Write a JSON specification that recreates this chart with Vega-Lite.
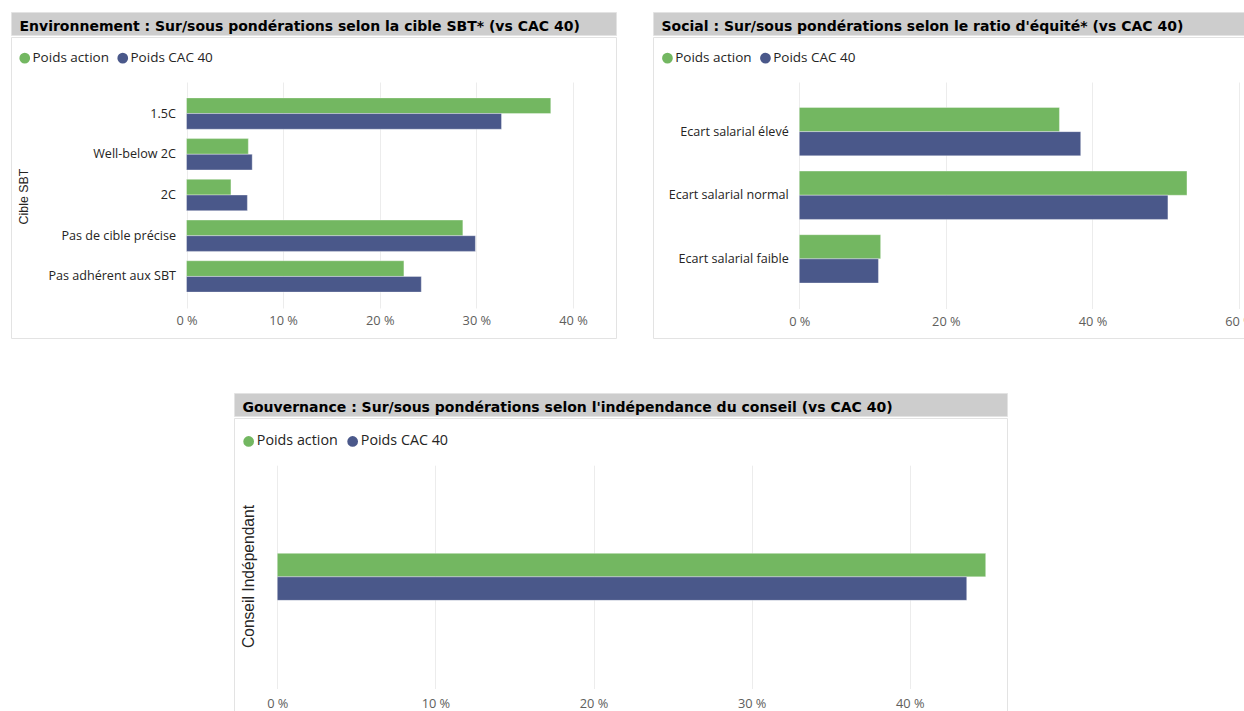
{
  "$schema": "https://vega.github.io/schema/vega-lite/v6.json",
  "background": "white",
  "padding": {"left": 10, "top": 11, "right": 0, "bottom": 0},
  "datasets": {
    "env": [
      {"categorie": "1.5C", "serie": "Poids action", "poids": 37.7},
      {"categorie": "1.5C", "serie": "Poids CAC 40", "poids": 32.6},
      {"categorie": "Well-below 2C", "serie": "Poids action", "poids": 6.4},
      {"categorie": "Well-below 2C", "serie": "Poids CAC 40", "poids": 6.8},
      {"categorie": "2C", "serie": "Poids action", "poids": 4.6},
      {"categorie": "2C", "serie": "Poids CAC 40", "poids": 6.3},
      {"categorie": "Pas de cible précise", "serie": "Poids action", "poids": 28.6},
      {"categorie": "Pas de cible précise", "serie": "Poids CAC 40", "poids": 29.9},
      {"categorie": "Pas adhérent aux SBT", "serie": "Poids action", "poids": 22.5},
      {"categorie": "Pas adhérent aux SBT", "serie": "Poids CAC 40", "poids": 24.3}
    ],
    "soc": [
      {"categorie": "Ecart salarial élevé", "serie": "Poids action", "poids": 35.5},
      {"categorie": "Ecart salarial élevé", "serie": "Poids CAC 40", "poids": 38.4},
      {"categorie": "Ecart salarial normal", "serie": "Poids action", "poids": 52.9},
      {"categorie": "Ecart salarial normal", "serie": "Poids CAC 40", "poids": 50.3},
      {"categorie": "Ecart salarial faible", "serie": "Poids action", "poids": 11.1},
      {"categorie": "Ecart salarial faible", "serie": "Poids CAC 40", "poids": 10.8}
    ],
    "gouv": [
      {"categorie": "Conseil Indépendant", "serie": "Poids action", "poids": 44.8},
      {"categorie": "Conseil Indépendant", "serie": "Poids CAC 40", "poids": 43.6}
    ]
  },
  "config": {
    "view": {"stroke": null},
    "axis": {
      "domain": false,
      "ticks": false,
      "tickSize": 0,
      "gridColor": "#ececec",
      "gridWidth": 1,
      "labelFont": "Open Sans",
      "labelFontSize": 12.8,
      "labelColor": "#605E5C"
    },
    "axisY": {"grid": false, "labelColor": "#252423", "labelFontSize": 12.6, "labelPadding": 11},
    "axisX": {"grid": true, "title": null, "labelFlush": false, "labelBaseline": "middle"},
    "legend": {
      "orient": "none",
      "direction": "horizontal",
      "title": null,
      "symbolType": "circle",
      "symbolSize": 115,
      "symbolStrokeWidth": 0,
      "labelFont": "Open Sans",
      "labelFontSize": 13.5,
      "labelColor": "#252423",
      "labelOffset": 1,
      "columnPadding": 7,
      "padding": 0
    }
  },
  "resolve": {"scale": {"color": "independent", "yOffset": "independent"}, "legend": {"color": "independent"}},
  "spacing": 53,
  "vconcat": [
    {
      "spacing": 35,
      "resolve": {"scale": {"color": "independent", "yOffset": "independent"}, "legend": {"color": "independent"}},
      "hconcat": [
        {
          "spacing": 0,
          "resolve": {"scale": {"color": "independent", "yOffset": "independent"}, "legend": {"color": "independent"}},
          "vconcat": [
            {
              "width": 605,
              "height": 23,
              "data": {"values": [{}]},
              "mark": {"type": "point", "opacity": 0, "size": 0, "strokeWidth": 0},
              "view": {"stroke": "#e3e3e3", "fill": "#cdcdcd"},
              "encoding": {
                "x": {
                  "datum": 0.5,
                  "type": "quantitative",
                  "scale": {"domain": [0, 1]},
                  "axis": {
                    "orient": "top", "labels": false, "grid": false,
                    "title": "Environnement : Sur/sous pondérations selon la cible SBT* (vs CAC 40)",
                    "titleX": 8, "titleY": 18.5, "titleAlign": "left", "titleAngle": 0,
                    "titleBaseline": "alphabetic", "titleFont": "DejaVu Sans", "titleFontSize": 14,
                    "titleFontWeight": "bold", "titleColor": "#000000", "titleLimit": 0
                  }
                }
              }
            },
            {
              "width": 605,
              "height": 301,
              "data": {"name": "env"},
              "view": {"stroke": "#e3e3e3", "fill": "white"},
              "mark": {"type": "bar", "stroke": "#ffffff", "strokeOpacity": 0.35, "strokeWidth": 1},
              "encoding": {
                "y": {
                  "field": "categorie",
                  "type": "nominal",
                  "sort": ["1.5C", "Well-below 2C", "2C", "Pas de cible précise", "Pas adhérent aux SBT"],
                  "scale": {"range": [45, 271], "paddingInner": 0.23, "paddingOuter": 0.39},
                  "axis": {
                    "offset": -175.5,
                    "title": "Cible SBT",
                    "titleFont": "Liberation Sans",
                    "titleFontSize": 12.4,
                    "titleFontWeight": "normal",
                    "titleColor": "#252423",
                    "titleAngle": 270,
                    "titleAlign": "center",
                    "titleBaseline": "middle",
                    "titleX": -163.5,
                    "titleY": 159
                  }
                },
                "yOffset": {"field": "serie", "type": "nominal", "sort": ["Poids action", "Poids CAC 40"]},
                "x": {
                  "field": "poids",
                  "type": "quantitative",
                  "scale": {"domain": [0, 40], "range": [175.5, 562], "nice": false},
                  "axis": {"orient": "top", "offset": -271, "labelPadding": -12.5, "values": [0, 10, 20, 30, 40], "labelExpr": "datum.value + ' %'"}
                },
                "color": {
                  "field": "serie",
                  "type": "nominal",
                  "scale": {"domain": ["Poids action", "Poids CAC 40"], "range": ["#73B761", "#4A588A"]},
                  "legend": {"legendX": 7, "legendY": 14}
                }
              }
            }
          ]
        },
        {
          "spacing": 0,
          "resolve": {"scale": {"color": "independent", "yOffset": "independent"}, "legend": {"color": "independent"}},
          "vconcat": [
            {
              "width": 600,
              "height": 23,
              "data": {"values": [{}]},
              "mark": {"type": "point", "opacity": 0, "size": 0, "strokeWidth": 0},
              "view": {"stroke": "#e3e3e3", "fill": "#cdcdcd"},
              "encoding": {
                "x": {
                  "datum": 0.5,
                  "type": "quantitative",
                  "scale": {"domain": [0, 1]},
                  "axis": {
                    "orient": "top", "labels": false, "grid": false,
                    "title": "Social : Sur/sous pondérations selon le ratio d'équité* (vs CAC 40)",
                    "titleX": 8, "titleY": 18.5, "titleAlign": "left", "titleAngle": 0,
                    "titleBaseline": "alphabetic", "titleFont": "DejaVu Sans", "titleFontSize": 14,
                    "titleFontWeight": "bold", "titleColor": "#000000", "titleLimit": 0
                  }
                }
              }
            },
            {
              "width": 600,
              "height": 301,
              "data": {"name": "soc"},
              "view": {"stroke": "#e3e3e3", "fill": "white"},
              "mark": {"type": "bar", "stroke": "#ffffff", "strokeOpacity": 0.35, "strokeWidth": 1},
              "encoding": {
                "y": {
                  "field": "categorie",
                  "type": "nominal",
                  "sort": ["Ecart salarial élevé", "Ecart salarial normal", "Ecart salarial faible"],
                  "scale": {"range": [45, 271.5], "paddingInner": 0.24, "paddingOuter": 0.4},
                  "axis": {"offset": -146.3, "title": null}
                },
                "yOffset": {"field": "serie", "type": "nominal", "sort": ["Poids action", "Poids CAC 40"]},
                "x": {
                  "field": "poids",
                  "type": "quantitative",
                  "scale": {"domain": [0, 60], "range": [146.3, 586], "nice": false},
                  "axis": {"orient": "top", "offset": -271.5, "labelPadding": -12.5, "values": [0, 20, 40, 60], "labelExpr": "datum.value + ' %'"}
                },
                "color": {
                  "field": "serie",
                  "type": "nominal",
                  "scale": {"domain": ["Poids action", "Poids CAC 40"], "range": ["#73B761", "#4A588A"]},
                  "legend": {"legendX": 7.7, "legendY": 14}
                }
              }
            }
          ]
        }
      ]
    },
    {
      "spacing": 0,
      "resolve": {"scale": {"color": "independent", "yOffset": "independent"}, "legend": {"color": "independent"}},
      "hconcat": [
        {
          "width": 222,
          "height": 10,
          "data": {"values": []},
          "mark": "point",
          "view": {"stroke": null}
        },
        {
          "spacing": 0,
          "resolve": {"scale": {"color": "independent", "yOffset": "independent"}, "legend": {"color": "independent"}},
          "vconcat": [
            {
              "width": 773,
              "height": 23,
              "data": {"values": [{}]},
              "mark": {"type": "point", "opacity": 0, "size": 0, "strokeWidth": 0},
              "view": {"stroke": "#e3e3e3", "fill": "#cdcdcd"},
              "encoding": {
                "x": {
                  "datum": 0.5,
                  "type": "quantitative",
                  "scale": {"domain": [0, 1]},
                  "axis": {
                    "orient": "top", "labels": false, "grid": false,
                    "title": "Gouvernance : Sur/sous pondérations selon l'indépendance du conseil (vs CAC 40)",
                    "titleX": 8, "titleY": 18.5, "titleAlign": "left", "titleAngle": 0,
                    "titleBaseline": "alphabetic", "titleFont": "DejaVu Sans", "titleFontSize": 14,
                    "titleFontWeight": "bold", "titleColor": "#000000", "titleLimit": 0
                  }
                }
              }
            },
            {
              "width": 773,
              "height": 295,
              "data": {"name": "gouv"},
              "view": {"stroke": "#e3e3e3", "fill": "white"},
              "mark": {"type": "bar", "stroke": "#ffffff", "strokeOpacity": 0.35, "strokeWidth": 1},
              "encoding": {
                "y": {
                  "field": "categorie",
                  "type": "nominal",
                  "scale": {"range": [47.2, 270.5], "paddingInner": 0.6, "paddingOuter": 0.75},
                  "axis": {
                    "offset": -43.3,
                    "labels": false,
                    "title": "Conseil Indépendant",
                    "titleFont": "Liberation Sans",
                    "titleFontSize": 15.6,
                    "titleFontWeight": "normal",
                    "titleColor": "#252423",
                    "titleAngle": 270,
                    "titleAlign": "center",
                    "titleBaseline": "middle",
                    "titleX": -28.5,
                    "titleY": 158
                  }
                },
                "yOffset": {"field": "serie", "type": "nominal", "sort": ["Poids action", "Poids CAC 40"]},
                "x": {
                  "field": "poids",
                  "type": "quantitative",
                  "scale": {"domain": [0, 40], "range": [43.3, 675.8], "nice": false},
                  "axis": {"orient": "top", "offset": -270.5, "labelPadding": -15, "values": [0, 10, 20, 30, 40], "labelExpr": "datum.value + ' %'"}
                },
                "color": {
                  "field": "serie",
                  "type": "nominal",
                  "scale": {"domain": ["Poids action", "Poids CAC 40"], "range": ["#73B761", "#4A588A"]},
                  "legend": {"legendX": 7.5, "legendY": 16, "labelFontSize": 14.3}
                }
              }
            }
          ]
        }
      ]
    }
  ]
}
